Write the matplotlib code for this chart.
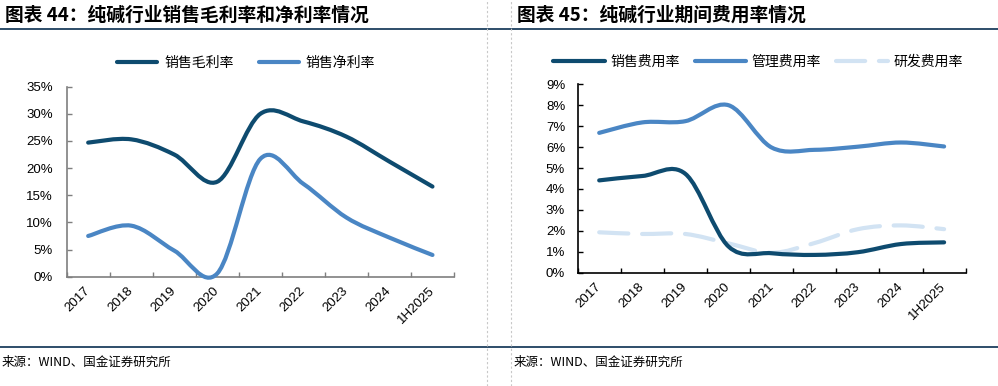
import numpy as np
import matplotlib
matplotlib.use("Agg")
import matplotlib.pyplot as plt
from matplotlib.path import Path
from matplotlib.patches import PathPatch
from matplotlib.lines import Line2D

plt.rcParams['font.family'] = ['Liberation Sans', 'Noto Sans CJK SC', 'DejaVu Sans']

# ---- data ----
years = ['2017', '2018', '2019', '2020', '2021', '2022', '2023', '2024', '1H2025']

gross_margin = [24.7, 25.3, 22.5, 17.5, 30.0, 28.6, 25.8, 21.2, 16.6]
net_margin = [7.5, 9.4, 4.8, 0.6, 21.7, 17.1, 10.9, 7.2, 4.0]

sales_exp = [4.41, 4.62, 4.72, 1.25, 0.93, 0.85, 0.98, 1.37, 1.45]
admin_exp = [6.68, 7.18, 7.24, 8.0, 5.98, 5.87, 6.02, 6.22, 6.03]
rd_exp = [1.93, 1.85, 1.85, 1.4, 0.95, 1.42, 2.08, 2.26, 2.08]

DARK = '#0e4b6f'
MID = '#4a86c4'
LIGHT = '#d2e3f3'
CJK = ['Noto Sans CJK SC', 'DejaVu Sans']


def smooth_path(x, y):
    # Bezier path through the points (Excel-style smoothed line)
    x = np.asarray(x, float)
    y = np.asarray(y, float)
    pts = np.column_stack([x, y])
    n = len(pts)
    verts = [pts[0]]
    codes = [Path.MOVETO]
    for i in range(n - 1):
        p0 = pts[i - 1] if i > 0 else pts[i]
        p1 = pts[i]
        p2 = pts[i + 1]
        p3 = pts[i + 2] if i + 2 < n else pts[i + 1]
        c1 = p1 + (p2 - p0) / 6.0
        c2 = p2 - (p3 - p1) / 6.0
        verts += [c1, c2, p2]
        codes += [Path.CURVE4] * 3
    return Path(verts, codes)


def add_line(ax, y, color, ls='-'):
    x = np.arange(len(y))
    patch = PathPatch(smooth_path(x, y), fill=False, edgecolor=color, lw=3.0,
                      linestyle=ls, capstyle='round', joinstyle='round',
                      clip_on=False, zorder=3)
    ax.add_patch(patch)


def style_axes(ax, ymax, ystep, spine_color, ypad):
    ax.set_xlim(-0.5, len(years) - 0.5)
    ax.set_ylim(0, ymax)
    for s in ['top', 'right']:
        ax.spines[s].set_visible(False)
    for s in ['left', 'bottom']:
        ax.spines[s].set_color(spine_color)
        ax.spines[s].set_linewidth(1.2)
    ax.set_xticks(np.arange(-0.5, len(years), 1.0))
    ax.set_xticklabels([])
    ax.set_xticks(np.arange(len(years)), minor=True)
    ax.set_xticklabels(years, minor=True, rotation=45, ha='right', va='center',
                       rotation_mode='anchor', fontsize=9.5)
    ax.tick_params(axis='x', which='major', direction='in', length=3.5,
                   color=spine_color, width=1)
    ax.tick_params(axis='x', which='minor', length=0, pad=9)
    yt = np.arange(0, ymax + 0.001, ystep)
    ax.set_yticks(yt)
    ax.set_yticklabels(['%d%%' % v for v in yt], fontsize=9.5)
    ax.tick_params(axis='y', direction='in', length=3.5, color=spine_color,
                   width=1, pad=ypad)


fig = plt.figure(figsize=(9.98, 3.86), dpi=100)

# ---- left chart ----
ax1 = fig.add_axes([0.0668, 0.2832, 0.3881, 0.4922])
style_axes(ax1, 35, 5, '#7f7f7f', 10)
add_line(ax1, gross_margin, DARK)
add_line(ax1, net_margin, MID)
h1 = [Line2D([], [], color=DARK, lw=3, solid_capstyle='round'),
      Line2D([], [], color=MID, lw=3, solid_capstyle='round')]
ax1.legend(h1, ['销售毛利率', '销售净利率'], loc='center',
           bbox_to_anchor=(246 / 998, 1 - 63 / 386), bbox_transform=fig.transFigure,
           ncol=2, frameon=False, handlelength=2.9, handletextpad=0.5,
           columnspacing=1.8, prop={'family': CJK, 'size': 10})

# ---- right chart ----
ax2 = fig.add_axes([0.5788, 0.2935, 0.3888, 0.4881])
style_axes(ax2, 9, 1, '#000000', 9)
add_line(ax2, rd_exp, LIGHT, ls=(0, (7, 3.3)))
add_line(ax2, admin_exp, MID)
add_line(ax2, sales_exp, DARK)
h2 = [Line2D([], [], color=DARK, lw=3, solid_capstyle='round'),
      Line2D([], [], color=MID, lw=3, solid_capstyle='round'),
      Line2D([], [], color=LIGHT, lw=3, dashes=(7, 3.3), dash_capstyle='round')]
ax2.legend(h2, ['销售费用率', '管理费用率', '研发费用率'], loc='center',
           bbox_to_anchor=(758 / 998, 1 - 62 / 386), bbox_transform=fig.transFigure,
           ncol=3, frameon=False, handlelength=3.7, handletextpad=0.4,
           columnspacing=1.1, prop={'family': CJK, 'size': 10})

# ---- titles, rules, source ----
fig.text(5 / 998, 1 - 15 / 386, '图表 44：纯碱行业销售毛利率和净利率情况', fontsize=13.5,
         fontweight='bold', family=CJK, va='center', ha='left', color='#000000')
fig.text(517 / 998, 1 - 15 / 386, '图表 45：纯碱行业期间费用率情况', fontsize=13.5,
         fontweight='bold', family=CJK, va='center', ha='left', color='#000000')

for yy in [29, 347]:
    fig.add_artist(Line2D([0, 1], [1 - yy / 386] * 2, color='#1c3f5e', lw=1.3,
                          transform=fig.transFigure))
for xx in [487, 511]:
    fig.add_artist(Line2D([xx / 998] * 2, [0, 1], color='#c8c8c8', lw=0.8,
                          ls=(0, (2, 2)), transform=fig.transFigure))

fig.text(2 / 998, 1 - 362 / 386, '来源：WIND、国金证券研究所', fontsize=9,
         family=CJK, va='center', ha='left')
fig.text(514 / 998, 1 - 362 / 386, '来源：WIND、国金证券研究所', fontsize=9,
         family=CJK, va='center', ha='left')

fig.savefig('out.png', dpi=100)
